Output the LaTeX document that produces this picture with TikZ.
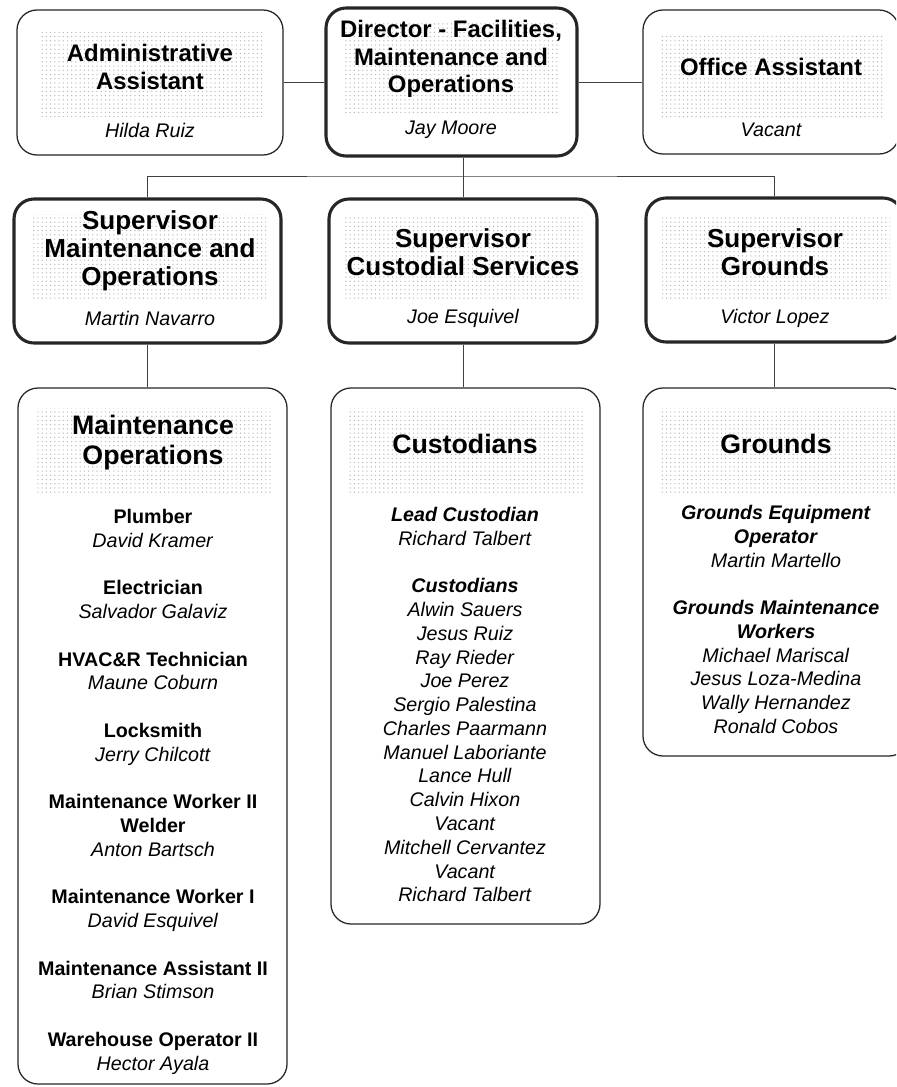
\documentclass[tikz,border=0pt]{standalone}
\usepackage{fontspec}
\setmainfont{Liberation Sans}
\usetikzlibrary{fit,patterns}

\newcommand{\jobtitle}[1]{\textbf{#1}}
\newcommand{\crewrole}[1]{\textbf{\textit{#1}}}
\newcommand{\staff}[1]{\textit{#1}}

\begin{document}
\begin{tikzpicture}[x=0.025cm,y=-0.025cm,
    card/.style={draw=black!85,line width=0.9pt,fill=white,rounded corners=0.5cm,inner sep=0pt},
    headcard/.style={card,line width=2.2pt},
    band/.style={pattern=dots,pattern color=black!28},
    head/.style={font=\fontsize{17}{19.5}\selectfont\bfseries,align=center},
    suphead/.style={font=\fontsize{18.5}{20}\selectfont\bfseries,align=center},
    unithead/.style={font=\fontsize{19}{21.3}\selectfont\bfseries,align=center},
    who/.style={font=\fontsize{14}{16.9}\selectfont\itshape},
    roster/.style={font=\fontsize{14}{16.9}\selectfont,align=center,anchor=north,inner sep=0pt},
    link/.style={line width=0.7pt,black!75}]
  \clip (0,0) rectangle (896,1087);
  % Top row
  \node[card,fit={(17,10) (283,155)}] (admin) {};
  \node[headcard,fit={(326,8) (577,156)}] (dir) {};
  \node[card,fit={(643,10) (899,154)}] (office) {};
  % Supervisors
  \node[headcard,fit={(14,199) (281,343)}] (supmo) {};
  \node[headcard,fit={(329,199) (597,343)}] (supcu) {};
  \node[headcard,fit={(646,198) (903,342)}] (supgr) {};
  % Crews
  \node[card,fit={(18,388) (287,1084)}] (crewmo) {};
  \node[card,fit={(331,388) (600,924)}] (crewcu) {};
  \node[card,fit={(643,388) (909,756)}] (crewgr) {};
  % Connectors
  \draw[link] (admin.east) -- (admin.east -| dir.west);
  \draw[link] (office.west) -- (office.west -| dir.east);
  \coordinate (bus) at (463,176);
  \draw[link] (supcu.north |- dir.south) -- (supcu.north);
  \draw[link] (supmo.north) |- (bus) -| (supgr.north);
  \draw[link] (supmo.south) -- (supmo.south |- crewmo.north);
  \draw[link] (supcu.south) -- (supcu.south |- crewcu.north);
  \draw[link] (supgr.south) -- (supgr.south |- crewgr.north);
  % Shaded title bands
  \fill[band] (40,32) rectangle (262,116);
  \fill[band] (345,22) rectangle (560,112);
  \fill[band] (660,35) rectangle (885,118);
  \fill[band] (30,214) rectangle (266,300);
  \fill[band] (345,217) rectangle (582,300);
  \fill[band] (662,217) rectangle (890,300);
  \fill[band] (35,408) rectangle (272,492);
  \fill[band] (348,408) rectangle (585,492);
  \fill[band] (660,408) rectangle (895,492);
  % Titles and names
  \node[head] (admint) at (150,67) {Administrative\\Assistant};
  \node[who] (adminn) at (150,130) {Hilda Ruiz};
  \node[head] (dirt) at (451,59) {Director - Facilities,\\Maintenance and\\Operations};
  \node[who] (dirn) at (451,130) {Jay Moore};
  \node[head] (officet) at (771,67) {Office Assistant};
  \node[who] (officen) at (771,130) {Vacant};
  \node[suphead] (supmot) at (150,251) {Supervisor\\Maintenance and\\Operations};
  \node[who] (supmon) at (150,318) {Martin Navarro};
  \node[suphead] (supcut) at (463,252) {Supervisor\\Custodial Services};
  \node[who] (supcun) at (463,318) {Joe Esquivel};
  \node[suphead] (supgrt) at (775,252) {Supervisor\\Grounds};
  \node[who] (supgrn) at (775,318) {Victor Lopez};
  \node[unithead] (crewmot) at (153,443) {Maintenance\\Operations};
  \node[unithead] (crewcut) at (465,444) {Custodians};
  \node[unithead] (crewgrt) at (776,444) {Grounds};
  % Rosters
  \node[roster] (mostaff) at (153,509) {\jobtitle{Plumber}\\\staff{David Kramer}\\[16.9pt]
    \jobtitle{Electrician}\\\staff{Salvador Galaviz}\\[16.9pt]
    \jobtitle{HVAC\&R Technician}\\\staff{Maune Coburn}\\[16.9pt]
    \jobtitle{Locksmith}\\\staff{Jerry Chilcott}\\[16.9pt]
    \jobtitle{Maintenance Worker II}\\\jobtitle{Welder}\\\staff{Anton Bartsch}\\[16.9pt]
    \jobtitle{Maintenance Worker I}\\\staff{David Esquivel}\\[16.9pt]
    \jobtitle{Maintenance Assistant II}\\\staff{Brian Stimson}\\[16.9pt]
    \jobtitle{Warehouse Operator II}\\\staff{Hector Ayala}};
  \node[roster] (custaff) at (465,507) {\crewrole{Lead Custodian}\\\staff{Richard Talbert}\\[16.9pt]
    \crewrole{Custodians}\\\staff{Alwin Sauers}\\\staff{Jesus Ruiz}\\\staff{Ray Rieder}\\
    \staff{Joe Perez}\\\staff{Sergio Palestina}\\\staff{Charles Paarmann}\\
    \staff{Manuel Laboriante}\\\staff{Lance Hull}\\\staff{Calvin Hixon}\\\staff{Vacant}\\
    \staff{Mitchell Cervantez}\\\staff{Vacant}\\\staff{Richard Talbert}};
  \node[roster] (grstaff) at (776,505) {\crewrole{Grounds Equipment}\\\crewrole{Operator}\\\staff{Martin Martello}\\[16.9pt]
    \crewrole{Grounds Maintenance}\\\crewrole{Workers}\\\staff{Michael Mariscal}\\
    \staff{Jesus Loza-Medina}\\\staff{Wally Hernandez}\\\staff{Ronald Cobos}};
\end{tikzpicture}
\end{document}
